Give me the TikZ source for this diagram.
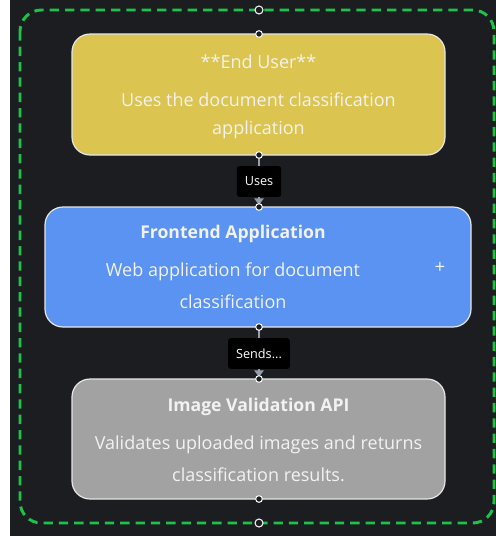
\documentclass[tikz,border=0pt]{standalone}
\usepackage{fontspec}
\setmainfont{Open Sans}
\usetikzlibrary{arrows.meta}
\definecolor{bgdark}{HTML}{1C1D21}
\definecolor{ylw}{HTML}{DBC44F}
\definecolor{blu}{HTML}{5A93F2}
\definecolor{gry}{HTML}{A2A2A2}
\definecolor{grn}{HTML}{1CC24A}
\definecolor{txt}{HTML}{F2F2F2}
\definecolor{conn}{HTML}{96A0AC}
\tikzset{
  box/.style={draw=txt!90!gray, line width=0.9pt, rounded corners=13.5pt},
  ttl/.style={text=txt, font=\fontsize{13.5}{15}\selectfont, anchor=center, inner sep=0pt},
  ttlb/.style={text=txt, font=\fontsize{13.2}{15}\selectfont\bfseries, anchor=center, inner sep=0pt},
  lbl/.style={fill=black, text=white, rounded corners=2pt, font=\fontsize{9.5}{11}\selectfont, minimum height=23pt, inner xsep=6pt},
  port/.style={circle, fill=bgdark, draw=txt, line width=0.8pt, inner sep=0pt, minimum size=5pt},
  conline/.style={draw=conn, line width=2.2pt, -{Triangle[length=5pt,width=7pt]}},
}
\begin{document}
\begin{tikzpicture}[x=0.75pt,y=-0.75pt]
\useasboundingbox (0,0) rectangle (496,536);
\fill[white] (0,0) rectangle (10,536);
\fill[bgdark] (10,0) rectangle (496,536);
% group frame
\draw[grn, line width=2.2pt, dash pattern=on 7pt off 4.5pt, rounded corners=16pt] (20,10) rectangle (494,523);
% boxes
\draw[box, fill=ylw] (72,34) rectangle (445,155);
\draw[box, fill=blu] (45,207) rectangle (471,327);
\draw[box, fill=gry] (72,379) rectangle (445,499);
\coordinate (yb) at (259,155);
\coordinate (bt) at (259,207);
\coordinate (bb) at (259,327);
\coordinate (gt) at (259,379);
% texts
\node[ttl] (t1) at (258.5,62) {**End User**};
\node[ttl] (t1a) at (258.5,100) {Uses the document classification};
\node[ttl] (t1b) at (258.5,130) {application};
\node[ttlb] (t2) at (233,234) {Frontend Application};
\node[ttl] (t2a) at (233,272) {Web application for document};
\node[ttl] (t2b) at (233,302) {classification};
\node[text=txt, font=\fontsize{14}{16}\selectfont, inner sep=0pt] (plus) at (440,268) {+};
\node[ttlb] (t3) at (258.5,407) {Image Validation API};
\node[ttl] (t3a) at (258.5,445) {Validates uploaded images and returns};
\node[ttl] (t3b) at (258.5,475) {classification results.};
% connectors
\draw[conline] (yb) -- ([yshift=1.5pt]bt);
\draw[conline] (bb) -- ([yshift=1.5pt]gt);
\node[lbl] (l1) at (259,181.5) {Uses};
\node[lbl] (l2) at (259,353.5) {Sends...};
% ports
\node[port] (p1) at (yb) {};
\node[port] (p2) at (bt) {};
\node[port] (p3) at (bb) {};
\node[port] (p4) at (gt) {};
\node[port] (p5) at (259,499) {};
\node[port] (p6) at (259,34) {};
\node[port, minimum size=6pt] (g1) at (259,10) {};
\node[port, minimum size=6pt] (g2) at (259,523) {};
\end{tikzpicture}
\end{document}
